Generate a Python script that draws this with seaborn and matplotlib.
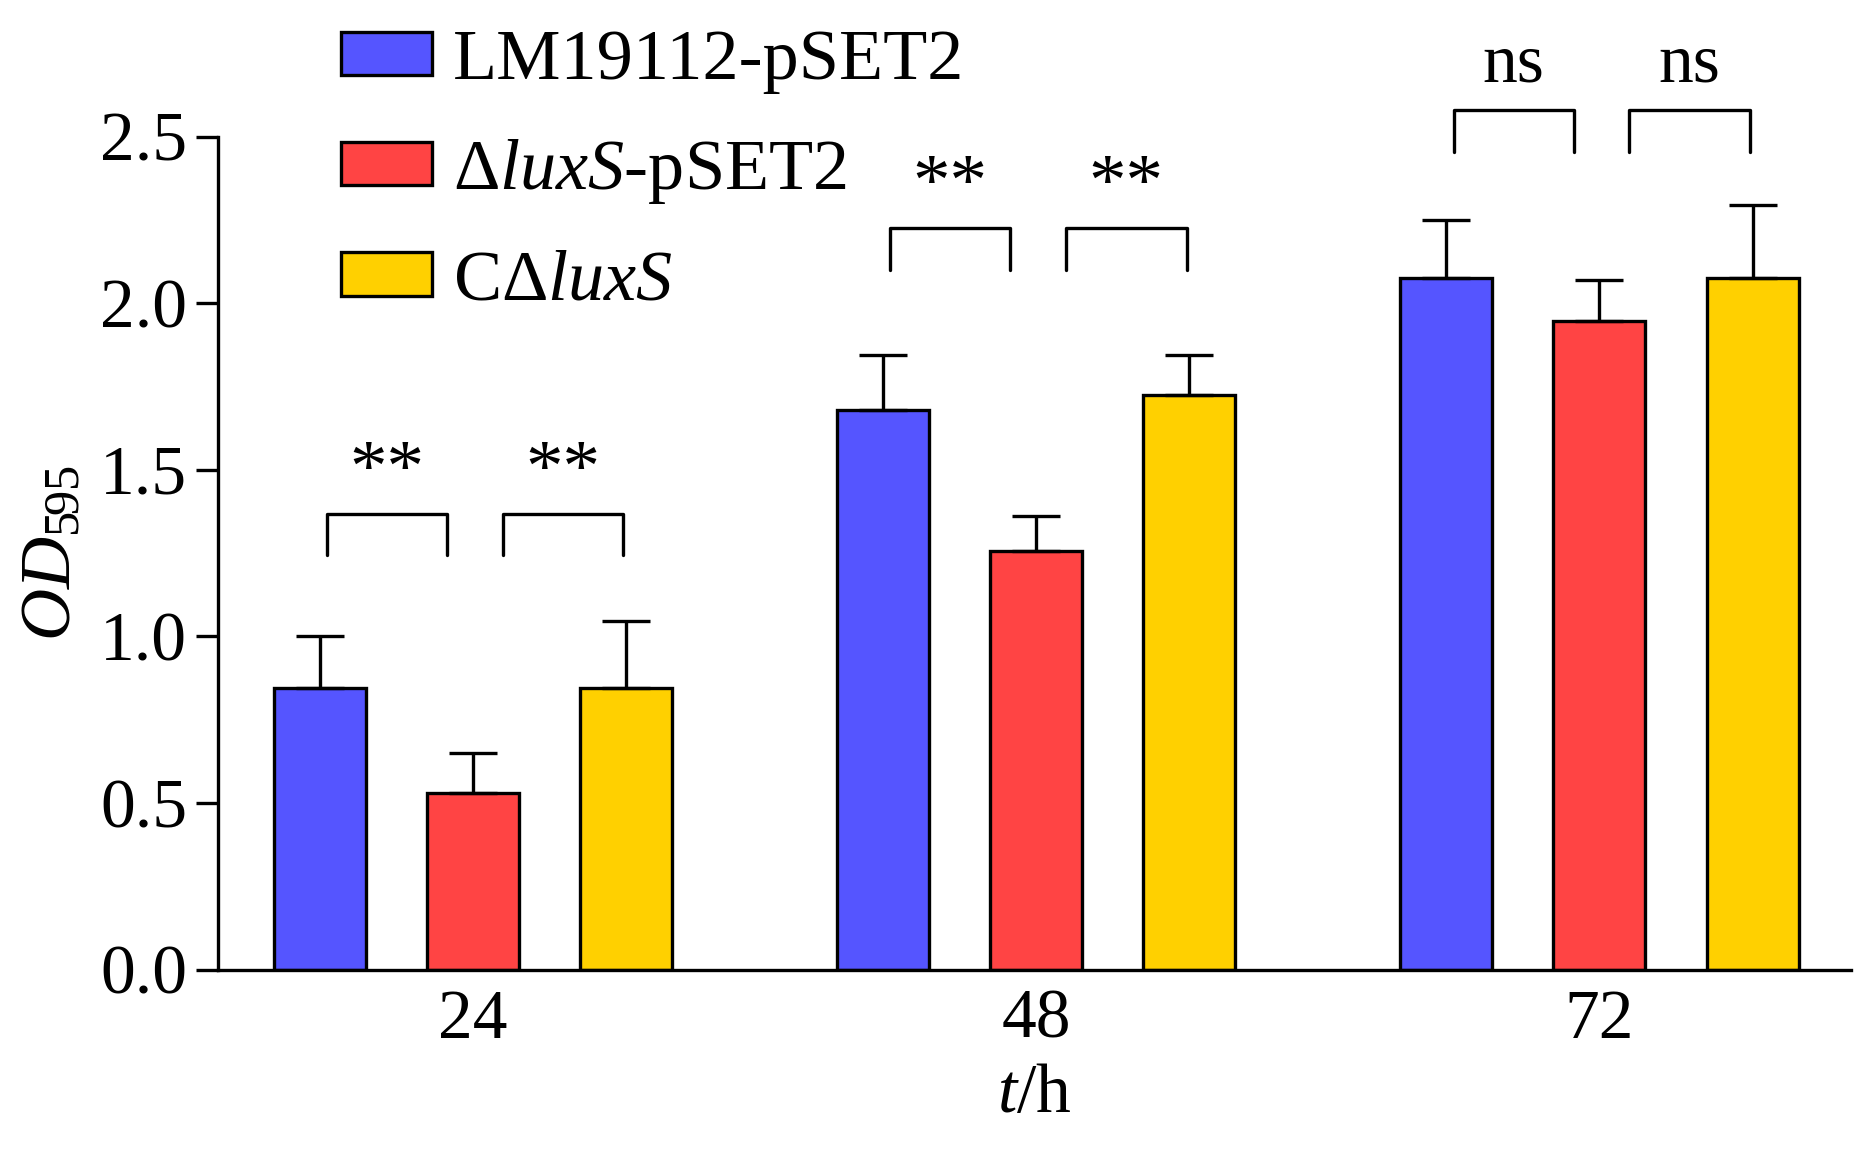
import matplotlib
matplotlib.use("Agg")
import matplotlib.pyplot as plt
import seaborn as sns
import pandas as pd
from matplotlib.patches import Patch

times = ["24", "48", "72"]
strains = ["LM19112-pSET2", "ΔluxS-pSET2", "CΔluxS"]
legend_labels = ["LM19112-pSET2", r"Δ$\mathit{luxS}$-pSET2", r"C$\Delta\mathit{luxS}$"]
means = {
    "LM19112-pSET2": [0.845, 1.68, 2.075],
    "ΔluxS-pSET2": [0.53, 1.255, 1.945],
    "CΔluxS": [0.845, 1.725, 2.075],
}
errs = {
    "LM19112-pSET2": [0.155, 0.165, 0.175],
    "ΔluxS-pSET2": [0.12, 0.105, 0.125],
    "CΔluxS": [0.2, 0.12, 0.22],
}
sig_labels = [["**", "**"], ["**", "**"], ["ns", "ns"]]
bracket_low = [1.245, 2.1, 2.455]
bracket_high = [1.367, 2.225, 2.58]
colors = ["#5555FF", "#FF4444", "#FFD000"]

sns.set_theme(style="ticks")
plt.rcParams["font.family"] = ["Liberation Serif", "DejaVu Serif"]
plt.rcParams["mathtext.fontset"] = "custom"
plt.rcParams["mathtext.rm"] = "Liberation Serif"
plt.rcParams["mathtext.it"] = "Liberation Serif:italic"
for k in ["text.color", "axes.labelcolor", "xtick.color", "ytick.color", "axes.edgecolor"]:
    plt.rcParams[k] = "black"

rows = []
for s in strains:
    for i, t in enumerate(times):
        rows.append(dict(time=t, strain=s, od=means[s][i]))
df = pd.DataFrame(rows)

fig = plt.figure(figsize=(18.6, 11.57), dpi=100)
ax = fig.add_axes([0.117, 0.162, 0.878, 0.72])
sns.barplot(data=df, x="time", y="od", hue="strain", hue_order=strains, order=times,
            palette=colors, saturation=1, width=0.816, gap=0.4, edgecolor="black",
            linewidth=2.4, ax=ax, errorbar=None, legend=False)

for j, s in enumerate(strains):
    container = ax.containers[j]
    for i, p in enumerate(container.patches):
        cx = p.get_x() + p.get_width() / 2
        ax.errorbar(cx, means[s][i], yerr=[[0], [errs[s][i]]], fmt="none",
                    ecolor="black", elinewidth=2.4, capsize=17, capthick=2.4, zorder=1)

for i in range(3):
    pairs = [(-0.259, -0.046), (0.053, 0.267)]
    for k, (a, b) in enumerate(pairs):
        x0, x1 = i + a, i + b
        lo, hi = bracket_low[i], bracket_high[i]
        ax.plot([x0, x0, x1, x1], [lo, hi, hi, lo], color="black", lw=2.4, clip_on=False)
        lab = sig_labels[i][k]
        if lab == "**":
            ax.text((x0 + x1) / 2, hi + 0.02, lab, ha="center", va="bottom",
                    fontsize=54, clip_on=False)
        else:
            ax.text((x0 + x1) / 2, hi + 0.04, lab, ha="center", va="bottom",
                    fontsize=50, clip_on=False)

ax.set_xlim(-0.453, 2.446)
ax.set_ylim(0, 2.5)
ax.set_yticks([0, 0.5, 1.0, 1.5, 2.0, 2.5])
ax.set_yticklabels(["0.0", "0.5", "1.0", "1.5", "2.0", "2.5"])
ax.tick_params(axis="y", length=16, width=2.4, labelsize=50, direction="out", pad=6)
ax.tick_params(axis="x", length=0, labelsize=50, pad=14)
for sp in ["top", "right"]:
    ax.spines[sp].set_visible(False)
for sp in ["left", "bottom"]:
    ax.spines[sp].set_linewidth(2.4)
ax.set_xlabel("$t$/h", fontsize=50, labelpad=8)
ax.set_ylabel(r"$OD_{595}$", fontsize=52, labelpad=10)

handles = [Patch(facecolor=c, edgecolor="black", linewidth=2.4) for c in colors]
fig.legend(handles, legend_labels, loc="upper left", bbox_to_anchor=(0.168, 1.0),
           frameon=False, fontsize=52, handlelength=1.25, handleheight=0.55,
           labelspacing=0.6, handletextpad=0.3, borderaxespad=0)

fig.savefig("out.png", dpi=100)
